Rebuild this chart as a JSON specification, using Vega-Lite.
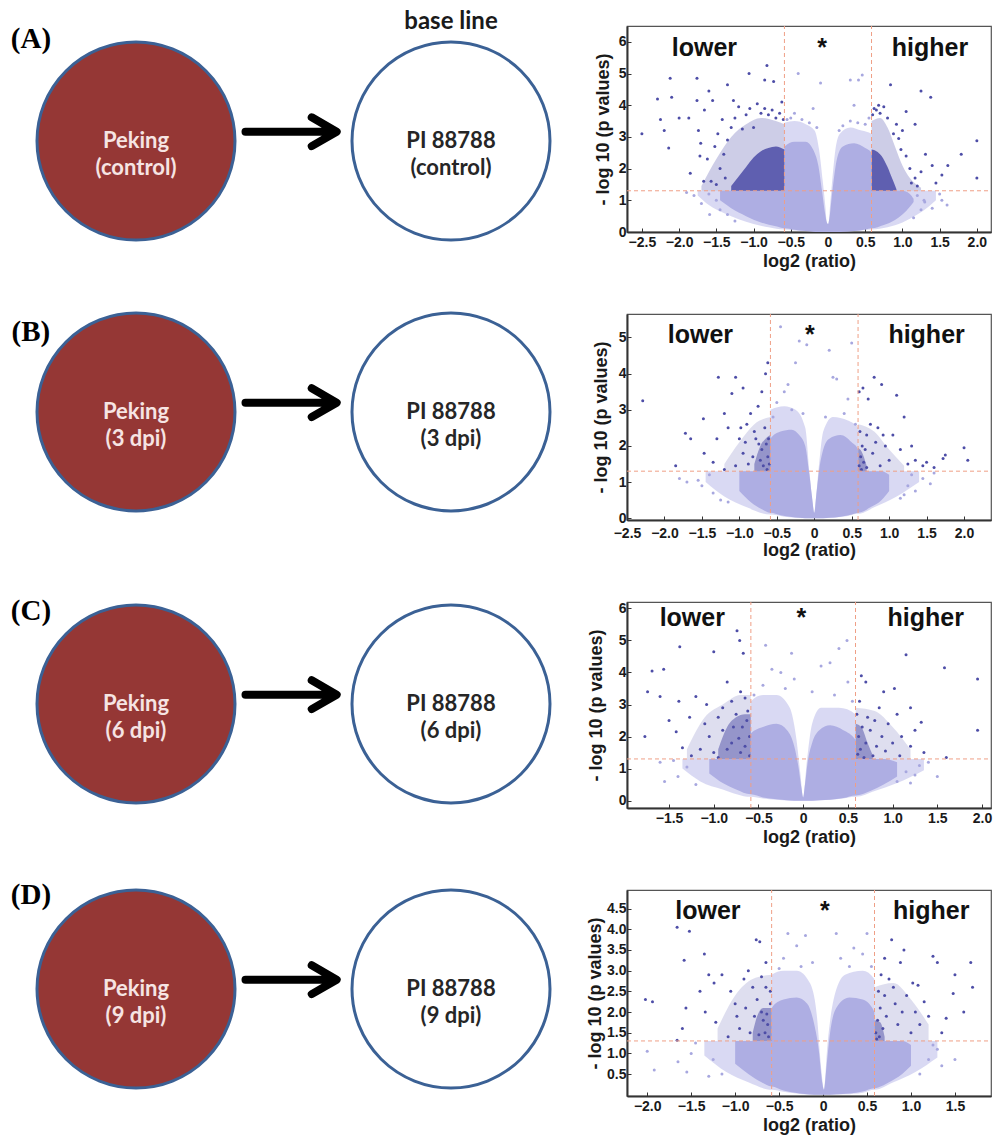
{
"$schema":"https://vega.github.io/schema/vega-lite/v6.json",
"background":"white",
"padding":{"left":0,"top":10,"right":0,"bottom":0},
"autosize":{"type":"pad"},
"columns":2,
"bounds":"flush",
"spacing":{"row":82,"column":57},
"config":{
 "axis":{"grid":false,"domain":true,"domainColor":"#333333","domainWidth":2,"ticks":true,"tickSize":-4,"tickColor":"#333333","tickWidth":1,"labelFont":"Liberation Sans","labelFontWeight":"bold","labelFontSize":14,"labelColor":"#1a1a1a","titleFont":"Liberation Sans","titleFontWeight":"bold","titleFontSize":18,"titleColor":"#1a1a1a","labelFlush":false,"labelOverlap":false},
 "axisX":{"labelPadding":7,"titlePadding":3},
 "axisY":{"labelPadding":5}
},
"datasets":{
 "sA":[{"kind":"node","cultivar":"Peking","pos":0,"level":0,"label":"Peking\n(control)"},{"kind":"node","cultivar":"PI 88788","pos":2,"level":0,"label":"PI 88788\n(control)"},{"kind":"arrow","pos":1,"level":0.09},{"kind":"tag","pos":-0.667,"level":0.99,"label":"(A)"},{"kind":"note","pos":2,"level":1.155,"label":"base line"}],
 "sB":[{"kind":"node","cultivar":"Peking","pos":0,"level":0,"label":"Peking\n(3 dpi)"},{"kind":"node","cultivar":"PI 88788","pos":2,"level":0,"label":"PI 88788\n(3 dpi)"},{"kind":"arrow","pos":1,"level":0.09},{"kind":"tag","pos":-0.667,"level":0.776,"label":"(B)"}],
 "sC":[{"kind":"node","cultivar":"Peking","pos":0,"level":0,"label":"Peking\n(6 dpi)"},{"kind":"node","cultivar":"PI 88788","pos":2,"level":0,"label":"PI 88788\n(6 dpi)"},{"kind":"arrow","pos":1,"level":0.09},{"kind":"tag","pos":-0.667,"level":0.903,"label":"(C)"}],
 "sD":[{"kind":"node","cultivar":"Peking","pos":0,"level":0,"label":"Peking\n(9 dpi)"},{"kind":"node","cultivar":"PI 88788","pos":2,"level":0,"label":"PI 88788\n(9 dpi)"},{"kind":"arrow","pos":1,"level":0.09},{"kind":"tag","pos":-0.667,"level":0.912,"label":"(D)"}],
 "eA":[
  {"t":"lo","s":"C","x":-1.75,"y":1.3,"y2v":1.15},{"t":"lo","s":"C","x":-1.6,"y":1.3,"y2v":0.85},{"t":"lo","s":"C","x":-1.4,"y":1.3,"y2v":0.6},{"t":"lo","s":"C","x":-1.2,"y":1.3,"y2v":0.4},{"t":"lo","s":"C","x":-1.0,"y":1.3,"y2v":0.25},{"t":"lo","s":"C","x":-0.8,"y":1.3,"y2v":0.15},{"t":"lo","s":"C","x":-0.586,"y":1.3,"y2v":0.08},{"t":"lo","s":"C","x":-0.584,"y":3.45,"y2v":0.08},{"t":"lo","s":"C","x":-0.45,"y":3.5,"y2v":0.05},{"t":"lo","s":"C","x":-0.3,"y":3.4,"y2v":0.02},{"t":"lo","s":"C","x":-0.18,"y":3.2,"y2v":0.01},{"t":"lo","s":"C","x":-0.12,"y":2.6,"y2v":0},{"t":"lo","s":"C","x":-0.07,"y":1.6,"y2v":0},{"t":"lo","s":"C","x":-0.035,"y":0.8,"y2v":0},{"t":"lo","s":"C","x":-0.015,"y":0.3,"y2v":0},{"t":"lo","s":"C","x":0.005,"y":0.25,"y2v":0},{"t":"lo","s":"C","x":0.03,"y":0.9,"y2v":0},{"t":"lo","s":"C","x":0.06,"y":1.7,"y2v":0},{"t":"lo","s":"C","x":0.1,"y":2.6,"y2v":0},{"t":"lo","s":"C","x":0.16,"y":3.1,"y2v":0},{"t":"lo","s":"C","x":0.3,"y":3.3,"y2v":0.02},{"t":"lo","s":"C","x":0.45,"y":3.2,"y2v":0.05},{"t":"lo","s":"C","x":0.584,"y":3.1,"y2v":0.08},{"t":"lo","s":"C","x":0.586,"y":1.3,"y2v":0.08},{"t":"lo","s":"C","x":0.8,"y":1.3,"y2v":0.15},{"t":"lo","s":"C","x":1.0,"y":1.3,"y2v":0.3},{"t":"lo","s":"C","x":1.2,"y":1.3,"y2v":0.55},{"t":"lo","s":"C","x":1.35,"y":1.3,"y2v":0.8},{"t":"lo","s":"C","x":1.45,"y":1.3,"y2v":1.0},
  {"t":"lc","s":"C","x":-1.45,"y":1.3,"y2v":1.0},{"t":"lc","s":"C","x":-1.3,"y":1.3,"y2v":0.75},{"t":"lc","s":"C","x":-1.1,"y":1.3,"y2v":0.5},{"t":"lc","s":"C","x":-0.9,"y":1.3,"y2v":0.3},{"t":"lc","s":"C","x":-0.7,"y":1.3,"y2v":0.18},{"t":"lc","s":"C","x":-0.586,"y":1.3,"y2v":0.12},{"t":"lc","s":"C","x":-0.584,"y":2.7,"y2v":0.12},{"t":"lc","s":"C","x":-0.45,"y":2.85,"y2v":0.07},{"t":"lc","s":"C","x":-0.3,"y":2.85,"y2v":0.03},{"t":"lc","s":"C","x":-0.2,"y":2.6,"y2v":0.01},{"t":"lc","s":"C","x":-0.13,"y":2.1,"y2v":0},{"t":"lc","s":"C","x":-0.08,"y":1.3,"y2v":0},{"t":"lc","s":"C","x":-0.04,"y":0.6,"y2v":0},{"t":"lc","s":"C","x":-0.015,"y":0.3,"y2v":0},{"t":"lc","s":"C","x":0.0,"y":0.25,"y2v":0},{"t":"lc","s":"C","x":0.02,"y":0.45,"y2v":0},{"t":"lc","s":"C","x":0.05,"y":1.1,"y2v":0},{"t":"lc","s":"C","x":0.08,"y":1.7,"y2v":0},{"t":"lc","s":"C","x":0.12,"y":2.3,"y2v":0},{"t":"lc","s":"C","x":0.2,"y":2.7,"y2v":0.01},{"t":"lc","s":"C","x":0.35,"y":2.8,"y2v":0.03},{"t":"lc","s":"C","x":0.5,"y":2.65,"y2v":0.08},{"t":"lc","s":"C","x":0.584,"y":2.5,"y2v":0.12},{"t":"lc","s":"C","x":0.586,"y":1.3,"y2v":0.12},{"t":"lc","s":"C","x":0.75,"y":1.3,"y2v":0.22},{"t":"lc","s":"C","x":0.9,"y":1.3,"y2v":0.38},{"t":"lc","s":"C","x":1.0,"y":1.3,"y2v":0.55},{"t":"lc","s":"C","x":1.1,"y":1.2,"y2v":0.8},{"t":"lc","s":"C","x":1.15,"y":1.05,"y2v":0.95},
  {"t":"do","s":"L","x":-1.7,"y":1.45,"y2v":1.3},{"t":"do","s":"L","x":-1.5,"y":2.3,"y2v":1.3},{"t":"do","s":"L","x":-1.3,"y":3.0,"y2v":1.3},{"t":"do","s":"L","x":-1.1,"y":3.4,"y2v":1.3},{"t":"do","s":"L","x":-0.9,"y":3.6,"y2v":1.3},{"t":"do","s":"L","x":-0.7,"y":3.5,"y2v":1.3},{"t":"do","s":"L","x":-0.586,"y":3.4,"y2v":1.3},
  {"t":"do","s":"R","x":0.586,"y":3.5,"y2v":1.3},{"t":"do","s":"R","x":0.7,"y":3.6,"y2v":1.3},{"t":"do","s":"R","x":0.8,"y":3.3,"y2v":1.3},{"t":"do","s":"R","x":0.9,"y":2.7,"y2v":1.3},{"t":"do","s":"R","x":1.0,"y":2.1,"y2v":1.3},{"t":"do","s":"R","x":1.1,"y":1.7,"y2v":1.3},{"t":"do","s":"R","x":1.25,"y":1.4,"y2v":1.3},
  {"t":"dc","s":"L","x":-1.3,"y":1.45,"y2v":1.3},{"t":"dc","s":"L","x":-1.2,"y":1.75,"y2v":1.3},{"t":"dc","s":"L","x":-1.1,"y":2.05,"y2v":1.3},{"t":"dc","s":"L","x":-1.0,"y":2.35,"y2v":1.3},{"t":"dc","s":"L","x":-0.9,"y":2.55,"y2v":1.3},{"t":"dc","s":"L","x":-0.8,"y":2.65,"y2v":1.3},{"t":"dc","s":"L","x":-0.7,"y":2.7,"y2v":1.3},{"t":"dc","s":"L","x":-0.586,"y":2.6,"y2v":1.3},
  {"t":"dc","s":"R","x":0.586,"y":2.6,"y2v":1.3},{"t":"dc","s":"R","x":0.65,"y":2.55,"y2v":1.3},{"t":"dc","s":"R","x":0.72,"y":2.4,"y2v":1.3},{"t":"dc","s":"R","x":0.8,"y":2.05,"y2v":1.3},{"t":"dc","s":"R","x":0.86,"y":1.7,"y2v":1.3},{"t":"dc","s":"R","x":0.92,"y":1.35,"y2v":1.3}
 ],
 "eB":[
  {"t":"lo","s":"C","x":-1.45,"y":1.3,"y2v":1.0},{"t":"lo","s":"C","x":-1.2,"y":1.3,"y2v":0.6},{"t":"lo","s":"C","x":-0.9,"y":1.3,"y2v":0.3},{"t":"lo","s":"C","x":-0.586,"y":1.3,"y2v":0.1},{"t":"lo","s":"C","x":-0.584,"y":3.0,"y2v":0.1},{"t":"lo","s":"C","x":-0.4,"y":3.1,"y2v":0.04},{"t":"lo","s":"C","x":-0.25,"y":3.0,"y2v":0.01},{"t":"lo","s":"C","x":-0.12,"y":2.5,"y2v":0},{"t":"lo","s":"C","x":-0.06,"y":1.2,"y2v":0},{"t":"lo","s":"C","x":-0.02,"y":0.4,"y2v":0},{"t":"lo","s":"C","x":0.0,"y":0.15,"y2v":0},{"t":"lo","s":"C","x":0.02,"y":0.5,"y2v":0},{"t":"lo","s":"C","x":0.06,"y":1.4,"y2v":0},{"t":"lo","s":"C","x":0.12,"y":2.4,"y2v":0},{"t":"lo","s":"C","x":0.25,"y":2.8,"y2v":0.01},{"t":"lo","s":"C","x":0.45,"y":2.7,"y2v":0.06},{"t":"lo","s":"C","x":0.584,"y":2.5,"y2v":0.12},{"t":"lo","s":"C","x":0.586,"y":1.3,"y2v":0.12},{"t":"lo","s":"C","x":0.8,"y":1.3,"y2v":0.3},{"t":"lo","s":"C","x":1.1,"y":1.3,"y2v":0.6},{"t":"lo","s":"C","x":1.4,"y":1.3,"y2v":1.0},
  {"t":"lc","s":"C","x":-1.0,"y":1.3,"y2v":0.75},{"t":"lc","s":"C","x":-0.85,"y":1.3,"y2v":0.45},{"t":"lc","s":"C","x":-0.7,"y":1.3,"y2v":0.25},{"t":"lc","s":"C","x":-0.586,"y":1.3,"y2v":0.15},{"t":"lc","s":"C","x":-0.584,"y":2.2,"y2v":0.15},{"t":"lc","s":"C","x":-0.45,"y":2.4,"y2v":0.08},{"t":"lc","s":"C","x":-0.3,"y":2.45,"y2v":0.03},{"t":"lc","s":"C","x":-0.2,"y":2.3,"y2v":0.01},{"t":"lc","s":"C","x":-0.12,"y":2.0,"y2v":0},{"t":"lc","s":"C","x":-0.07,"y":1.3,"y2v":0},{"t":"lc","s":"C","x":-0.03,"y":0.6,"y2v":0},{"t":"lc","s":"C","x":0.0,"y":0.15,"y2v":0},{"t":"lc","s":"C","x":0.03,"y":0.7,"y2v":0},{"t":"lc","s":"C","x":0.07,"y":1.4,"y2v":0},{"t":"lc","s":"C","x":0.12,"y":1.9,"y2v":0},{"t":"lc","s":"C","x":0.2,"y":2.2,"y2v":0.01},{"t":"lc","s":"C","x":0.35,"y":2.3,"y2v":0.04},{"t":"lc","s":"C","x":0.5,"y":2.1,"y2v":0.1},{"t":"lc","s":"C","x":0.584,"y":1.9,"y2v":0.15},{"t":"lc","s":"C","x":0.586,"y":1.3,"y2v":0.15},{"t":"lc","s":"C","x":0.75,"y":1.3,"y2v":0.3},{"t":"lc","s":"C","x":0.9,"y":1.3,"y2v":0.5},{"t":"lc","s":"C","x":1.0,"y":1.2,"y2v":0.75},
  {"t":"do","s":"L","x":-1.2,"y":1.5,"y2v":1.3},{"t":"do","s":"L","x":-1.0,"y":2.1,"y2v":1.3},{"t":"do","s":"L","x":-0.8,"y":2.6,"y2v":1.3},{"t":"do","s":"L","x":-0.586,"y":2.8,"y2v":1.3},
  {"t":"do","s":"R","x":0.586,"y":2.6,"y2v":1.3},{"t":"do","s":"R","x":0.8,"y":2.4,"y2v":1.3},{"t":"do","s":"R","x":1.0,"y":1.9,"y2v":1.3},{"t":"do","s":"R","x":1.2,"y":1.45,"y2v":1.3},
  {"t":"dc","s":"L","x":-0.8,"y":1.5,"y2v":1.3},{"t":"dc","s":"L","x":-0.72,"y":2.0,"y2v":1.3},{"t":"dc","s":"L","x":-0.65,"y":2.2,"y2v":1.3},{"t":"dc","s":"L","x":-0.586,"y":2.3,"y2v":1.3},
  {"t":"dc","s":"R","x":0.586,"y":1.95,"y2v":1.3},{"t":"dc","s":"R","x":0.63,"y":1.85,"y2v":1.3},{"t":"dc","s":"R","x":0.7,"y":1.45,"y2v":1.3}
 ],
 "eC":[
  {"t":"lo","s":"C","x":-1.35,"y":1.3,"y2v":1.0},{"t":"lo","s":"C","x":-1.15,"y":1.3,"y2v":0.6},{"t":"lo","s":"C","x":-0.9,"y":1.3,"y2v":0.35},{"t":"lo","s":"C","x":-0.586,"y":1.3,"y2v":0.12},{"t":"lo","s":"C","x":-0.584,"y":3.1,"y2v":0.12},{"t":"lo","s":"C","x":-0.45,"y":3.3,"y2v":0.07},{"t":"lo","s":"C","x":-0.3,"y":3.3,"y2v":0.03},{"t":"lo","s":"C","x":-0.15,"y":2.9,"y2v":0},{"t":"lo","s":"C","x":-0.08,"y":2.0,"y2v":0},{"t":"lo","s":"C","x":-0.03,"y":0.8,"y2v":0},{"t":"lo","s":"C","x":0.0,"y":0.1,"y2v":0},{"t":"lo","s":"C","x":0.04,"y":1.2,"y2v":0},{"t":"lo","s":"C","x":0.1,"y":2.4,"y2v":0},{"t":"lo","s":"C","x":0.2,"y":2.9,"y2v":0.01},{"t":"lo","s":"C","x":0.4,"y":2.9,"y2v":0.05},{"t":"lo","s":"C","x":0.584,"y":2.7,"y2v":0.12},{"t":"lo","s":"C","x":0.586,"y":1.3,"y2v":0.12},{"t":"lo","s":"C","x":0.8,"y":1.3,"y2v":0.3},{"t":"lo","s":"C","x":1.05,"y":1.3,"y2v":0.55},{"t":"lo","s":"C","x":1.35,"y":1.3,"y2v":0.95},
  {"t":"lc","s":"C","x":-1.05,"y":1.3,"y2v":0.85},{"t":"lc","s":"C","x":-0.9,"y":1.3,"y2v":0.55},{"t":"lc","s":"C","x":-0.75,"y":1.3,"y2v":0.35},{"t":"lc","s":"C","x":-0.586,"y":1.3,"y2v":0.2},{"t":"lc","s":"C","x":-0.584,"y":2.1,"y2v":0.2},{"t":"lc","s":"C","x":-0.45,"y":2.3,"y2v":0.1},{"t":"lc","s":"C","x":-0.3,"y":2.4,"y2v":0.04},{"t":"lc","s":"C","x":-0.18,"y":2.2,"y2v":0.01},{"t":"lc","s":"C","x":-0.1,"y":1.7,"y2v":0},{"t":"lc","s":"C","x":-0.05,"y":1.0,"y2v":0},{"t":"lc","s":"C","x":-0.02,"y":0.4,"y2v":0},{"t":"lc","s":"C","x":0.0,"y":0.1,"y2v":0},{"t":"lc","s":"C","x":0.02,"y":0.5,"y2v":0},{"t":"lc","s":"C","x":0.05,"y":1.2,"y2v":0},{"t":"lc","s":"C","x":0.1,"y":1.8,"y2v":0},{"t":"lc","s":"C","x":0.18,"y":2.2,"y2v":0.01},{"t":"lc","s":"C","x":0.3,"y":2.35,"y2v":0.03},{"t":"lc","s":"C","x":0.45,"y":2.2,"y2v":0.08},{"t":"lc","s":"C","x":0.584,"y":1.9,"y2v":0.16},{"t":"lc","s":"C","x":0.586,"y":1.3,"y2v":0.16},{"t":"lc","s":"C","x":0.75,"y":1.3,"y2v":0.3},{"t":"lc","s":"C","x":0.9,"y":1.3,"y2v":0.5},{"t":"lc","s":"C","x":1.05,"y":1.2,"y2v":0.75},
  {"t":"do","s":"L","x":-1.3,"y":1.6,"y2v":1.3},{"t":"do","s":"L","x":-1.1,"y":2.6,"y2v":1.3},{"t":"do","s":"L","x":-0.9,"y":3.0,"y2v":1.3},{"t":"do","s":"L","x":-0.7,"y":3.3,"y2v":1.3},{"t":"do","s":"L","x":-0.586,"y":3.3,"y2v":1.3},
  {"t":"do","s":"R","x":0.586,"y":2.9,"y2v":1.3},{"t":"do","s":"R","x":0.8,"y":2.8,"y2v":1.3},{"t":"do","s":"R","x":1.0,"y":2.3,"y2v":1.3},{"t":"do","s":"R","x":1.2,"y":1.6,"y2v":1.3},
  {"t":"dc","s":"L","x":-0.95,"y":1.6,"y2v":1.3},{"t":"dc","s":"L","x":-0.85,"y":2.3,"y2v":1.3},{"t":"dc","s":"L","x":-0.75,"y":2.6,"y2v":1.3},{"t":"dc","s":"L","x":-0.65,"y":2.7,"y2v":1.3},{"t":"dc","s":"L","x":-0.586,"y":2.7,"y2v":1.3},
  {"t":"dc","s":"R","x":0.586,"y":2.4,"y2v":1.3},{"t":"dc","s":"R","x":0.65,"y":2.3,"y2v":1.3},{"t":"dc","s":"R","x":0.72,"y":1.8,"y2v":1.3},{"t":"dc","s":"R","x":0.78,"y":1.4,"y2v":1.3}
 ],
 "eD":[
  {"t":"lo","s":"C","x":-1.35,"y":1.3,"y2v":0.95},{"t":"lo","s":"C","x":-1.1,"y":1.3,"y2v":0.55},{"t":"lo","s":"C","x":-0.85,"y":1.3,"y2v":0.3},{"t":"lo","s":"C","x":-0.586,"y":1.3,"y2v":0.12},{"t":"lo","s":"C","x":-0.584,"y":2.9,"y2v":0.12},{"t":"lo","s":"C","x":-0.45,"y":3.0,"y2v":0.07},{"t":"lo","s":"C","x":-0.3,"y":3.0,"y2v":0.03},{"t":"lo","s":"C","x":-0.15,"y":2.7,"y2v":0},{"t":"lo","s":"C","x":-0.07,"y":1.9,"y2v":0},{"t":"lo","s":"C","x":-0.02,"y":0.6,"y2v":0},{"t":"lo","s":"C","x":0.01,"y":0.12,"y2v":0},{"t":"lo","s":"C","x":0.05,"y":1.2,"y2v":0},{"t":"lo","s":"C","x":0.12,"y":2.3,"y2v":0},{"t":"lo","s":"C","x":0.25,"y":2.9,"y2v":0.01},{"t":"lo","s":"C","x":0.45,"y":3.0,"y2v":0.05},{"t":"lo","s":"C","x":0.584,"y":2.8,"y2v":0.12},{"t":"lo","s":"C","x":0.586,"y":1.3,"y2v":0.12},{"t":"lo","s":"C","x":0.8,"y":1.3,"y2v":0.3},{"t":"lo","s":"C","x":1.05,"y":1.3,"y2v":0.55},{"t":"lo","s":"C","x":1.3,"y":1.3,"y2v":0.9},
  {"t":"lc","s":"C","x":-1.0,"y":1.3,"y2v":0.75},{"t":"lc","s":"C","x":-0.85,"y":1.3,"y2v":0.5},{"t":"lc","s":"C","x":-0.7,"y":1.3,"y2v":0.3},{"t":"lc","s":"C","x":-0.586,"y":1.3,"y2v":0.2},{"t":"lc","s":"C","x":-0.584,"y":2.1,"y2v":0.2},{"t":"lc","s":"C","x":-0.45,"y":2.3,"y2v":0.1},{"t":"lc","s":"C","x":-0.3,"y":2.35,"y2v":0.04},{"t":"lc","s":"C","x":-0.18,"y":2.2,"y2v":0.01},{"t":"lc","s":"C","x":-0.1,"y":1.7,"y2v":0},{"t":"lc","s":"C","x":-0.05,"y":1.1,"y2v":0},{"t":"lc","s":"C","x":-0.01,"y":0.3,"y2v":0},{"t":"lc","s":"C","x":0.01,"y":0.12,"y2v":0},{"t":"lc","s":"C","x":0.04,"y":0.7,"y2v":0},{"t":"lc","s":"C","x":0.08,"y":1.5,"y2v":0},{"t":"lc","s":"C","x":0.15,"y":2.1,"y2v":0.01},{"t":"lc","s":"C","x":0.3,"y":2.35,"y2v":0.03},{"t":"lc","s":"C","x":0.45,"y":2.3,"y2v":0.08},{"t":"lc","s":"C","x":0.584,"y":2.0,"y2v":0.16},{"t":"lc","s":"C","x":0.586,"y":1.3,"y2v":0.16},{"t":"lc","s":"C","x":0.75,"y":1.3,"y2v":0.3},{"t":"lc","s":"C","x":0.9,"y":1.3,"y2v":0.5},{"t":"lc","s":"C","x":1.0,"y":1.2,"y2v":0.7},
  {"t":"do","s":"L","x":-1.2,"y":1.6,"y2v":1.3},{"t":"do","s":"L","x":-1.0,"y":2.4,"y2v":1.3},{"t":"do","s":"L","x":-0.8,"y":2.8,"y2v":1.3},{"t":"do","s":"L","x":-0.586,"y":2.9,"y2v":1.3},
  {"t":"do","s":"R","x":0.586,"y":2.6,"y2v":1.3},{"t":"do","s":"R","x":0.8,"y":2.7,"y2v":1.3},{"t":"do","s":"R","x":1.0,"y":2.3,"y2v":1.3},{"t":"do","s":"R","x":1.2,"y":1.7,"y2v":1.3},
  {"t":"dc","s":"L","x":-0.8,"y":1.5,"y2v":1.3},{"t":"dc","s":"L","x":-0.75,"y":1.9,"y2v":1.3},{"t":"dc","s":"L","x":-0.68,"y":2.1,"y2v":1.3},{"t":"dc","s":"L","x":-0.586,"y":2.1,"y2v":1.3},
  {"t":"dc","s":"R","x":0.586,"y":1.8,"y2v":1.3},{"t":"dc","s":"R","x":0.65,"y":1.75,"y2v":1.3},{"t":"dc","s":"R","x":0.7,"y":1.4,"y2v":1.3}
 ],
 "pA":[
  {"c":"d","x":-2.5,"y":3.1},{"c":"d","x":-2.29,"y":4.2},{"c":"d","x":-2.12,"y":4.85},{"c":"d","x":-2.1,"y":4.25},{"c":"d","x":-2.25,"y":3.55},{"c":"d","x":-2.14,"y":2.65},{"c":"d","x":-2.2,"y":3.2},{"c":"d","x":-1.76,"y":4.85},{"c":"d","x":-1.6,"y":4.45},{"c":"d","x":-1.76,"y":4.15},{"c":"d","x":-2.0,"y":3.6},{"c":"d","x":-1.87,"y":3.6},{"c":"d","x":-1.74,"y":3.2},{"c":"d","x":-1.71,"y":2.8},{"c":"d","x":-1.85,"y":1.85},{"c":"d","x":-1.35,"y":4.65},{"c":"d","x":-1.06,"y":5.0},{"c":"d","x":-0.85,"y":4.8},{"c":"d","x":-0.82,"y":5.25},{"c":"d","x":-0.73,"y":4.75},{"c":"d","x":-1.27,"y":4.15},{"c":"d","x":-1.55,"y":4.15},{"c":"d","x":-1.66,"y":3.85},{"c":"d","x":-1.35,"y":2.9},{"c":"d","x":-1.67,"y":1.6},{"c":"d","x":-1.57,"y":1.6},{"c":"d","x":-1.5,"y":1.5},{"c":"d","x":-1.45,"y":2.0},{"c":"d","x":-1.4,"y":2.45},{"c":"d","x":-1.52,"y":2.7},{"c":"d","x":-1.3,"y":3.3},{"c":"d","x":-1.25,"y":3.6},{"c":"d","x":-1.2,"y":3.95},{"c":"d","x":-1.15,"y":3.25},{"c":"d","x":-1.1,"y":3.7},{"c":"d","x":-1.05,"y":3.9},{"c":"d","x":-1.0,"y":3.3},{"c":"d","x":-0.95,"y":4.05},{"c":"d","x":-0.9,"y":3.75},{"c":"d","x":-0.85,"y":3.9},{"c":"d","x":-0.8,"y":3.7},{"c":"d","x":-0.75,"y":3.85},{"c":"d","x":-0.7,"y":3.6},{"c":"d","x":-0.65,"y":3.75},{"c":"d","x":-0.62,"y":4.1},{"c":"d","x":-0.6,"y":3.55},{"c":"d","x":-1.62,"y":2.3},{"c":"d","x":-1.48,"y":3.1},{"c":"d","x":-1.42,"y":3.55},{"c":"d","x":-1.38,"y":1.7},{"c":"d","x":-1.72,"y":2.4},
  {"c":"d","x":0.84,"y":4.65},{"c":"d","x":1.25,"y":4.45},{"c":"d","x":1.38,"y":4.25},{"c":"d","x":1.05,"y":3.8},{"c":"d","x":1.17,"y":3.4},{"c":"d","x":2.0,"y":2.88},{"c":"d","x":1.79,"y":2.45},{"c":"d","x":1.61,"y":2.1},{"c":"d","x":1.53,"y":1.8},{"c":"d","x":2.0,"y":1.7},{"c":"d","x":1.31,"y":2.45},{"c":"d","x":1.4,"y":2.1},{"c":"d","x":1.17,"y":1.7},{"c":"d","x":0.6,"y":3.7},{"c":"d","x":0.65,"y":3.85},{"c":"d","x":0.7,"y":3.75},{"c":"d","x":0.75,"y":3.95},{"c":"d","x":0.8,"y":3.6},{"c":"d","x":0.88,"y":3.1},{"c":"d","x":0.95,"y":2.95},{"c":"d","x":0.98,"y":2.6},{"c":"d","x":1.05,"y":2.4},{"c":"d","x":1.1,"y":2.0},{"c":"d","x":1.12,"y":1.55},{"c":"d","x":1.2,"y":1.45},{"c":"d","x":1.25,"y":1.9},{"c":"d","x":0.92,"y":3.4},{"c":"d","x":0.62,"y":3.9},{"c":"d","x":0.68,"y":4.0},{"c":"d","x":1.45,"y":1.55},{"c":"d","x":1.0,"y":3.2},
  {"c":"l","x":0.46,"y":4.95},{"c":"l","x":0.41,"y":4.8},{"c":"l","x":0.3,"y":4.8},{"c":"l","x":-0.1,"y":4.7},{"c":"l","x":-0.4,"y":5.0},{"c":"l","x":-0.5,"y":3.6},{"c":"l","x":-0.45,"y":3.75},{"c":"l","x":-0.35,"y":3.55},{"c":"l","x":-0.25,"y":3.45},{"c":"l","x":-0.15,"y":3.3},{"c":"l","x":-0.55,"y":3.55},{"c":"l","x":0.2,"y":3.35},{"c":"l","x":0.3,"y":3.5},{"c":"l","x":0.4,"y":3.45},{"c":"l","x":0.5,"y":3.4},{"c":"l","x":0.55,"y":3.6},{"c":"l","x":0.15,"y":3.2},{"c":"l","x":-0.2,"y":3.9},{"c":"l","x":0.35,"y":4.0},
  {"c":"l","x":-1.5,"y":1.0},{"c":"l","x":-1.59,"y":0.55},{"c":"l","x":-1.7,"y":0.9},{"c":"l","x":-1.8,"y":1.15},{"c":"l","x":-1.45,"y":0.7},{"c":"l","x":-1.35,"y":0.55},{"c":"l","x":-1.9,"y":1.25},{"c":"l","x":1.25,"y":0.7},{"c":"l","x":1.3,"y":0.95},{"c":"l","x":1.4,"y":0.75},{"c":"l","x":1.15,"y":0.45},{"c":"l","x":1.53,"y":1.0},{"c":"l","x":1.29,"y":1.0},{"c":"l","x":1.5,"y":1.2},{"c":"l","x":1.6,"y":0.85},{"c":"l","x":1.2,"y":1.15},{"c":"l","x":-1.25,"y":0.35},{"c":"l","x":-1.6,"y":1.2}
 ],
 "pB":[
  {"c":"d","x":-2.29,"y":3.25},{"c":"d","x":-1.85,"y":1.45},{"c":"d","x":-1.72,"y":2.35},{"c":"d","x":-1.65,"y":2.2},{"c":"d","x":-1.48,"y":2.75},{"c":"d","x":-1.47,"y":1.8},{"c":"d","x":-1.35,"y":1.55},{"c":"d","x":-1.28,"y":3.9},{"c":"d","x":-1.05,"y":3.9},{"c":"d","x":-0.95,"y":3.6},{"c":"d","x":-1.1,"y":3.45},{"c":"d","x":-1.2,"y":2.9},{"c":"d","x":-1.15,"y":2.5},{"c":"d","x":-1.0,"y":2.2},{"c":"d","x":-0.95,"y":1.8},{"c":"d","x":-0.9,"y":2.6},{"c":"d","x":-0.85,"y":2.9},{"c":"d","x":-0.8,"y":2.4},{"c":"d","x":-0.75,"y":3.1},{"c":"d","x":-0.7,"y":3.5},{"c":"d","x":-0.65,"y":4.0},{"c":"d","x":-0.62,"y":4.3},{"c":"d","x":-0.7,"y":1.9},{"c":"d","x":-0.72,"y":1.6},{"c":"d","x":-0.68,"y":1.45},{"c":"d","x":-0.64,"y":2.05},{"c":"d","x":-0.62,"y":1.7},{"c":"d","x":-0.6,"y":1.5},{"c":"d","x":-0.66,"y":2.5},{"c":"d","x":-0.78,"y":2.2},{"c":"d","x":-0.88,"y":1.5},{"c":"d","x":-1.05,"y":1.45},{"c":"d","x":-1.2,"y":1.35},{"c":"d","x":-0.61,"y":2.2},{"c":"d","x":-0.63,"y":1.35},{"c":"d","x":-0.74,"y":2.05},{"c":"d","x":-0.82,"y":1.7},{"c":"d","x":-0.92,"y":2.1},{"c":"d","x":-1.3,"y":2.2},{"c":"d","x":-0.98,"y":2.5},
  {"c":"d","x":0.62,"y":1.7},{"c":"d","x":0.6,"y":1.45},{"c":"d","x":0.64,"y":2.0},{"c":"d","x":0.66,"y":1.55},{"c":"d","x":0.7,"y":2.3},{"c":"d","x":0.75,"y":2.6},{"c":"d","x":0.8,"y":3.9},{"c":"d","x":0.9,"y":3.7},{"c":"d","x":0.85,"y":2.5},{"c":"d","x":0.95,"y":2.0},{"c":"d","x":1.0,"y":1.6},{"c":"d","x":1.05,"y":2.3},{"c":"d","x":1.1,"y":3.4},{"c":"d","x":1.2,"y":2.8},{"c":"d","x":1.15,"y":1.9},{"c":"d","x":1.25,"y":1.5},{"c":"d","x":1.35,"y":1.6},{"c":"d","x":0.78,"y":1.8},{"c":"d","x":0.88,"y":1.45},{"c":"d","x":0.72,"y":3.3},{"c":"d","x":0.65,"y":3.6},{"c":"d","x":2.0,"y":1.95},{"c":"d","x":2.05,"y":1.6},{"c":"d","x":1.75,"y":1.75},{"c":"d","x":1.6,"y":1.4},{"c":"d","x":1.45,"y":1.45},{"c":"d","x":0.61,"y":2.4},{"c":"d","x":0.63,"y":1.35},{"c":"d","x":0.68,"y":1.9},{"c":"d","x":0.7,"y":1.4},{"c":"d","x":0.82,"y":2.1},{"c":"d","x":0.92,"y":2.3},{"c":"d","x":1.3,"y":2.0},{"c":"d","x":1.5,"y":1.55},{"c":"d","x":1.72,"y":1.65},{"c":"d","x":0.6,"y":3.5},
  {"c":"l","x":-0.45,"y":5.3},{"c":"l","x":-0.2,"y":4.9},{"c":"l","x":-0.1,"y":4.8},{"c":"l","x":-0.25,"y":4.3},{"c":"l","x":0.2,"y":4.65},{"c":"l","x":0.25,"y":3.9},{"c":"l","x":0.3,"y":3.85},{"c":"l","x":-0.4,"y":3.5},{"c":"l","x":-0.5,"y":3.2},{"c":"l","x":0.45,"y":3.3},{"c":"l","x":0.5,"y":4.85},{"c":"l","x":-0.3,"y":3.0},{"c":"l","x":-0.15,"y":2.9},{"c":"l","x":0.15,"y":2.8},{"c":"l","x":0.4,"y":2.9},{"c":"l","x":-0.55,"y":2.8},{"c":"l","x":0.55,"y":2.6},{"c":"l","x":-0.35,"y":3.7},
  {"c":"l","x":-1.35,"y":0.7},{"c":"l","x":-1.5,"y":0.9},{"c":"l","x":-1.55,"y":1.05},{"c":"l","x":-1.25,"y":0.5},{"c":"l","x":-1.4,"y":1.2},{"c":"l","x":-1.8,"y":1.1},{"c":"l","x":1.15,"y":0.55},{"c":"l","x":1.25,"y":0.9},{"c":"l","x":1.35,"y":0.75},{"c":"l","x":1.45,"y":1.1},{"c":"l","x":1.55,"y":0.95},{"c":"l","x":1.3,"y":1.2},{"c":"l","x":1.6,"y":1.25},{"c":"l","x":1.2,"y":0.65},{"c":"l","x":-1.15,"y":0.45},{"c":"l","x":-1.7,"y":1.0}
 ],
 "pC":[
  {"c":"d","x":-1.77,"y":2.0},{"c":"d","x":-1.74,"y":3.4},{"c":"d","x":-1.69,"y":4.05},{"c":"d","x":-1.56,"y":4.1},{"c":"d","x":-1.6,"y":3.25},{"c":"d","x":-1.39,"y":3.1},{"c":"d","x":-1.35,"y":1.65},{"c":"d","x":-1.42,"y":2.15},{"c":"d","x":-1.2,"y":3.25},{"c":"d","x":-1.27,"y":2.6},{"c":"d","x":-1.38,"y":4.8},{"c":"d","x":-1.0,"y":4.65},{"c":"d","x":-0.74,"y":5.3},{"c":"d","x":-0.71,"y":5.0},{"c":"d","x":-0.67,"y":4.6},{"c":"d","x":-0.85,"y":3.7},{"c":"d","x":-0.9,"y":2.9},{"c":"d","x":-1.1,"y":2.4},{"c":"d","x":-1.05,"y":2.0},{"c":"d","x":-1.15,"y":1.6},{"c":"d","x":-1.0,"y":1.5},{"c":"d","x":-0.95,"y":2.6},{"c":"d","x":-0.8,"y":3.1},{"c":"d","x":-0.7,"y":3.4},{"c":"d","x":-0.65,"y":3.2},{"c":"d","x":-0.62,"y":2.8},{"c":"d","x":-0.75,"y":2.7},{"c":"d","x":-0.9,"y":2.2},{"c":"d","x":-0.8,"y":1.8},{"c":"d","x":-0.7,"y":1.5},{"c":"d","x":-0.65,"y":1.7},{"c":"d","x":-0.6,"y":1.4},{"c":"d","x":-0.68,"y":2.3},{"c":"d","x":-0.78,"y":2.3},{"c":"d","x":-0.85,"y":1.6},{"c":"d","x":-0.95,"y":1.35},{"c":"d","x":-1.08,"y":3.0},{"c":"d","x":-0.6,"y":2.0},{"c":"d","x":-0.63,"y":2.5},{"c":"d","x":-0.72,"y":1.95},{"c":"d","x":-1.25,"y":1.4},{"c":"d","x":-1.5,"y":2.5},
  {"c":"d","x":0.6,"y":2.7},{"c":"d","x":0.62,"y":2.0},{"c":"d","x":0.64,"y":1.6},{"c":"d","x":0.66,"y":2.3},{"c":"d","x":0.7,"y":1.8},{"c":"d","x":0.72,"y":2.6},{"c":"d","x":0.75,"y":2.2},{"c":"d","x":0.8,"y":2.5},{"c":"d","x":0.82,"y":1.7},{"c":"d","x":0.85,"y":2.9},{"c":"d","x":0.88,"y":2.0},{"c":"d","x":0.9,"y":3.4},{"c":"d","x":0.95,"y":2.4},{"c":"d","x":1.0,"y":1.8},{"c":"d","x":1.02,"y":3.5},{"c":"d","x":1.05,"y":2.7},{"c":"d","x":1.1,"y":2.0},{"c":"d","x":1.15,"y":4.55},{"c":"d","x":1.2,"y":2.9},{"c":"d","x":1.2,"y":1.7},{"c":"d","x":1.25,"y":2.2},{"c":"d","x":1.32,"y":2.45},{"c":"d","x":1.35,"y":1.5},{"c":"d","x":1.58,"y":4.15},{"c":"d","x":1.6,"y":1.35},{"c":"d","x":1.95,"y":3.8},{"c":"d","x":1.95,"y":2.2},{"c":"d","x":0.65,"y":3.9},{"c":"d","x":0.7,"y":3.7},{"c":"d","x":0.78,"y":1.4},{"c":"d","x":0.92,"y":1.55},{"c":"d","x":1.08,"y":1.4},{"c":"d","x":0.61,"y":1.45},{"c":"d","x":0.63,"y":3.1},{"c":"d","x":0.68,"y":1.35},
  {"c":"l","x":-0.42,"y":4.85},{"c":"l","x":-0.13,"y":4.6},{"c":"l","x":0.49,"y":5.0},{"c":"l","x":0.3,"y":4.3},{"c":"l","x":0.2,"y":4.2},{"c":"l","x":0.4,"y":4.75},{"c":"l","x":-0.35,"y":4.1},{"c":"l","x":-0.45,"y":3.6},{"c":"l","x":0.5,"y":3.7},{"c":"l","x":-0.25,"y":4.0},{"c":"l","x":-0.1,"y":3.8},{"c":"l","x":-0.55,"y":3.3},{"c":"l","x":0.1,"y":3.4},{"c":"l","x":-0.2,"y":3.5},{"c":"l","x":0.35,"y":3.3},{"c":"l","x":0.55,"y":3.1},
  {"c":"l","x":-1.2,"y":0.5},{"c":"l","x":-1.4,"y":0.75},{"c":"l","x":-1.55,"y":0.6},{"c":"l","x":-1.3,"y":1.05},{"c":"l","x":-1.6,"y":1.2},{"c":"l","x":-1.45,"y":1.25},{"c":"l","x":1.15,"y":0.9},{"c":"l","x":1.25,"y":0.8},{"c":"l","x":1.3,"y":1.1},{"c":"l","x":1.5,"y":0.75},{"c":"l","x":1.4,"y":1.2},{"c":"l","x":1.2,"y":0.55},{"c":"l","x":1.05,"y":0.6}
 ],
 "pD":[
  {"c":"d","x":-1.94,"y":2.25},{"c":"d","x":-2.02,"y":2.3},{"c":"d","x":-1.66,"y":4.05},{"c":"d","x":-1.52,"y":3.95},{"c":"d","x":-1.58,"y":3.25},{"c":"d","x":-1.56,"y":2.1},{"c":"d","x":-1.6,"y":1.6},{"c":"d","x":-1.66,"y":1.32},{"c":"d","x":-1.35,"y":3.4},{"c":"d","x":-1.3,"y":2.9},{"c":"d","x":-1.24,"y":2.7},{"c":"d","x":-1.4,"y":2.5},{"c":"d","x":-1.34,"y":2.0},{"c":"d","x":-1.22,"y":1.75},{"c":"d","x":-1.15,"y":2.9},{"c":"d","x":-1.05,"y":2.5},{"c":"d","x":-1.0,"y":2.2},{"c":"d","x":-0.98,"y":1.9},{"c":"d","x":-0.95,"y":1.6},{"c":"d","x":-0.9,"y":2.8},{"c":"d","x":-0.85,"y":3.0},{"c":"d","x":-0.8,"y":2.6},{"c":"d","x":-0.76,"y":3.75},{"c":"d","x":-0.72,"y":3.7},{"c":"d","x":-0.75,"y":2.3},{"c":"d","x":-0.7,"y":2.0},{"c":"d","x":-0.68,"y":1.8},{"c":"d","x":-0.66,"y":1.5},{"c":"d","x":-0.63,"y":1.7},{"c":"d","x":-0.62,"y":1.4},{"c":"d","x":-0.6,"y":2.2},{"c":"d","x":-0.6,"y":2.5},{"c":"d","x":-0.65,"y":2.6},{"c":"d","x":-0.7,"y":2.85},{"c":"d","x":-0.65,"y":3.2},{"c":"d","x":-0.88,"y":2.1},{"c":"d","x":-0.83,"y":1.5},{"c":"d","x":-1.08,"y":1.4},{"c":"d","x":-0.73,"y":1.45},{"c":"d","x":-0.78,"y":1.9},{"c":"d","x":-0.64,"y":1.95},
  {"c":"d","x":0.6,"y":1.5},{"c":"d","x":0.62,"y":1.8},{"c":"d","x":0.64,"y":1.4},{"c":"d","x":0.65,"y":2.1},{"c":"d","x":0.68,"y":1.6},{"c":"d","x":0.7,"y":2.4},{"c":"d","x":0.72,"y":1.9},{"c":"d","x":0.75,"y":2.8},{"c":"d","x":0.78,"y":3.75},{"c":"d","x":0.8,"y":2.6},{"c":"d","x":0.82,"y":2.2},{"c":"d","x":0.85,"y":1.7},{"c":"d","x":0.88,"y":3.2},{"c":"d","x":0.9,"y":2.0},{"c":"d","x":0.92,"y":3.5},{"c":"d","x":0.95,"y":2.4},{"c":"d","x":1.0,"y":1.5},{"c":"d","x":1.02,"y":2.7},{"c":"d","x":1.05,"y":2.0},{"c":"d","x":1.08,"y":2.65},{"c":"d","x":1.1,"y":1.7},{"c":"d","x":1.15,"y":2.25},{"c":"d","x":1.2,"y":1.9},{"c":"d","x":1.25,"y":3.35},{"c":"d","x":1.3,"y":3.2},{"c":"d","x":1.35,"y":1.5},{"c":"d","x":1.4,"y":1.85},{"c":"d","x":1.48,"y":2.45},{"c":"d","x":1.5,"y":2.9},{"c":"d","x":1.6,"y":2.0},{"c":"d","x":1.68,"y":3.2},{"c":"d","x":1.7,"y":2.6},{"c":"d","x":0.66,"y":2.9},{"c":"d","x":0.7,"y":3.3},{"c":"d","x":0.61,"y":1.35},{"c":"d","x":0.63,"y":2.5},
  {"c":"l","x":-0.4,"y":3.9},{"c":"l","x":-0.3,"y":3.6},{"c":"l","x":-0.2,"y":3.85},{"c":"l","x":0.15,"y":3.9},{"c":"l","x":0.35,"y":3.55},{"c":"l","x":0.45,"y":3.4},{"c":"l","x":0.5,"y":3.9},{"c":"l","x":-0.45,"y":3.3},{"c":"l","x":0.2,"y":3.3},{"c":"l","x":-0.12,"y":3.2},{"c":"l","x":-0.5,"y":3.05},{"c":"l","x":0.55,"y":3.1},{"c":"l","x":-0.25,"y":3.1},{"c":"l","x":0.3,"y":3.1},
  {"c":"l","x":-2.0,"y":1.05},{"c":"l","x":-1.92,"y":0.6},{"c":"l","x":-1.55,"y":0.55},{"c":"l","x":-1.5,"y":1.0},{"c":"l","x":-1.3,"y":0.45},{"c":"l","x":-1.25,"y":0.85},{"c":"l","x":-1.45,"y":1.25},{"c":"l","x":1.1,"y":0.5},{"c":"l","x":1.2,"y":0.85},{"c":"l","x":1.3,"y":1.1},{"c":"l","x":1.5,"y":0.85},{"c":"l","x":1.25,"y":1.2},{"c":"l","x":1.35,"y":0.7},{"c":"l","x":-1.15,"y":0.5},{"c":"l","x":-1.65,"y":0.8}
 ],
 "aA":[{"k":"v","x":-0.585,"x2v":-0.585,"y":0,"y2v":6.5},{"k":"v","x":0.585,"x2v":0.585,"y":0,"y2v":6.5},{"k":"h","x":-2.7,"x2v":2.19,"y":1.301,"y2v":1.301},{"k":"t","x":-1.66,"y":5.55,"label":"lower"},{"k":"t","x":-0.08,"y":5.55,"label":"*"},{"k":"t","x":1.37,"y":5.55,"label":"higher"}],
 "aB":[{"k":"v","x":-0.585,"x2v":-0.585,"y":-0.05,"y2v":5.65},{"k":"v","x":0.585,"x2v":0.585,"y":-0.05,"y2v":5.65},{"k":"h","x":-2.5,"x2v":2.36,"y":1.301,"y2v":1.301},{"k":"t","x":-1.52,"y":4.85,"label":"lower"},{"k":"t","x":-0.06,"y":4.85,"label":"*"},{"k":"t","x":1.5,"y":4.85,"label":"higher"}],
 "aC":[{"k":"v","x":-0.585,"x2v":-0.585,"y":-0.23,"y2v":6.2},{"k":"v","x":0.585,"x2v":0.585,"y":-0.23,"y2v":6.2},{"k":"h","x":-1.97,"x2v":2.1,"y":1.301,"y2v":1.301},{"k":"t","x":-1.24,"y":5.46,"label":"lower"},{"k":"t","x":-0.02,"y":5.46,"label":"*"},{"k":"t","x":1.37,"y":5.46,"label":"higher"}],
 "aD":[{"k":"v","x":-0.585,"x2v":-0.585,"y":-0.03,"y2v":4.95},{"k":"v","x":0.585,"x2v":0.585,"y":-0.03,"y2v":4.95},{"k":"h","x":-2.23,"x2v":1.91,"y":1.301,"y2v":1.301},{"k":"t","x":-1.31,"y":4.24,"label":"lower"},{"k":"t","x":0.02,"y":4.24,"label":"*"},{"k":"t","x":1.23,"y":4.24,"label":"higher"}]
},
"concat":[
 {"width":570,"height":206,"view":{"stroke":null},"data":{"name":"sA"},
  "encoding":{"x":{"field":"pos","type":"quantitative","scale":{"domain":[-0.8635,2.7556],"nice":false,"zero":false},"axis":null},"y":{"field":"level","type":"quantitative","scale":{"domain":[-0.8835,1.1165],"nice":false,"zero":false},"axis":null}},
  "layer":[
   {"transform":[{"filter":"datum.kind=='node'"}],"mark":{"type":"point","shape":"circle","filled":true,"size":39200,"stroke":"#3b6195","strokeWidth":3,"opacity":1},"encoding":{"fill":{"field":"cultivar","type":"nominal","scale":{"domain":["Peking","PI 88788"],"range":["#953735","#ffffff"]},"legend":null}}},
   {"transform":[{"filter":"datum.kind=='arrow'"}],"mark":{"type":"point","shape":"M-1,0L0.84,0M0.38,-0.3L0.9,0L0.38,0.3","size":9216,"filled":false,"stroke":"#000000","strokeWidth":8,"strokeCap":"round","strokeJoin":"round","opacity":1}},
   {"transform":[{"filter":"datum.kind=='node'"}],"mark":{"type":"text","font":"Lato","fontSize":22,"fontWeight":"bold","lineBreak":"\n","lineHeight":27,"baseline":"middle","align":"center"},"encoding":{"text":{"field":"label"},"color":{"field":"cultivar","type":"nominal","scale":{"domain":["Peking","PI 88788"],"range":["#f6e4e3","#262626"]},"legend":null}}},
   {"transform":[{"filter":"datum.kind=='tag'"}],"mark":{"type":"text","font":"Liberation Serif","fontSize":29,"fontWeight":"bold","color":"#000000","baseline":"middle","align":"center"},"encoding":{"text":{"field":"label"}}},
   {"transform":[{"filter":"datum.kind=='note'"}],"mark":{"type":"text","font":"Lato","fontSize":24,"fontWeight":"bold","color":"#1a1a1a","baseline":"middle","align":"center"},"encoding":{"text":{"field":"label"}}}
  ]},
 {"width":364,"height":206,"view":{"stroke":"#555555","strokeWidth":1.2},
  "encoding":{"x":{"field":"x","type":"quantitative","scale":{"domain":[-2.7,2.19],"nice":false,"zero":false},"axis":{"title":"log2 (ratio)","values":[-2.5,-2,-1.5,-1,-0.5,0,0.5,1,1.5,2],"labelExpr":"datum.value == 0 ? '0' : format(datum.value, '.1f')"}},"y":{"field":"y","type":"quantitative","scale":{"domain":[0,6.5],"nice":false,"zero":false},"axis":{"title":"- log 10 (p values)","values":[0,1,2,3,4,5,6],"format":"d","titlePadding":6}}},
  "layer":[
   {"data":{"name":"eA"},"transform":[{"filter":"datum.t=='lo'"}],"mark":{"type":"area","color":"#b4b4e7","opacity":0.5,"interpolate":"monotone"},"encoding":{"y2":{"field":"y2v"},"detail":{"field":"s"}}},
   {"data":{"name":"eA"},"transform":[{"filter":"datum.t=='lc'"}],"mark":{"type":"area","color":"#aeaee3","opacity":1,"interpolate":"monotone"},"encoding":{"y2":{"field":"y2v"},"detail":{"field":"s"}}},
   {"data":{"name":"eA"},"transform":[{"filter":"datum.t=='do'"}],"mark":{"type":"area","color":"#5a5ab0","opacity":0.3,"interpolate":"monotone"},"encoding":{"y2":{"field":"y2v"},"detail":{"field":"s"}}},
   {"data":{"name":"eA"},"transform":[{"filter":"datum.t=='dc'"}],"mark":{"type":"area","color":"#4b4ba6","opacity":0.85,"interpolate":"monotone"},"encoding":{"y2":{"field":"y2v"},"detail":{"field":"s"}}},
   {"data":{"name":"pA"},"transform":[{"filter":"datum.c=='l'"}],"mark":{"type":"point","shape":"circle","filled":true,"size":9,"color":"#a7a7df","opacity":1}},
   {"data":{"name":"pA"},"transform":[{"filter":"datum.c=='d'"}],"mark":{"type":"point","shape":"circle","filled":true,"size":9,"color":"#4d4da7","opacity":1}},
   {"data":{"name":"aA"},"transform":[{"filter":"datum.k!='t'"}],"mark":{"type":"rule","color":"#ef9f86","strokeWidth":1,"strokeDash":[4,3]},"encoding":{"x2":{"field":"x2v"},"y2":{"field":"y2v"}}},
   {"data":{"name":"aA"},"transform":[{"filter":"datum.k=='t'"}],"mark":{"type":"text","font":"Liberation Sans","fontSize":25,"fontWeight":"bold","color":"#111111","align":"center","baseline":"alphabetic"},"encoding":{"text":{"field":"label"}}}
  ]},
 {"width":570,"height":206,"view":{"stroke":null},"data":{"name":"sB"},
  "encoding":{"x":{"field":"pos","type":"quantitative","scale":{"domain":[-0.8635,2.7556],"nice":false,"zero":false},"axis":null},"y":{"field":"level","type":"quantitative","scale":{"domain":[-1.049,0.951],"nice":false,"zero":false},"axis":null}},
  "layer":[
   {"transform":[{"filter":"datum.kind=='node'"}],"mark":{"type":"point","shape":"circle","filled":true,"size":39200,"stroke":"#3b6195","strokeWidth":3,"opacity":1},"encoding":{"fill":{"field":"cultivar","type":"nominal","scale":{"domain":["Peking","PI 88788"],"range":["#953735","#ffffff"]},"legend":null}}},
   {"transform":[{"filter":"datum.kind=='arrow'"}],"mark":{"type":"point","shape":"M-1,0L0.84,0M0.38,-0.3L0.9,0L0.38,0.3","size":9216,"filled":false,"stroke":"#000000","strokeWidth":8,"strokeCap":"round","strokeJoin":"round","opacity":1}},
   {"transform":[{"filter":"datum.kind=='node'"}],"mark":{"type":"text","font":"Lato","fontSize":22,"fontWeight":"bold","lineBreak":"\n","lineHeight":27,"baseline":"middle","align":"center"},"encoding":{"text":{"field":"label"},"color":{"field":"cultivar","type":"nominal","scale":{"domain":["Peking","PI 88788"],"range":["#f6e4e3","#262626"]},"legend":null}}},
   {"transform":[{"filter":"datum.kind=='tag'"}],"mark":{"type":"text","font":"Liberation Serif","fontSize":29,"fontWeight":"bold","color":"#000000","baseline":"middle","align":"center"},"encoding":{"text":{"field":"label"}}}
  ]},
 {"width":364,"height":206,"view":{"stroke":"#555555","strokeWidth":1.2},
  "encoding":{"x":{"field":"x","type":"quantitative","scale":{"domain":[-2.5,2.36],"nice":false,"zero":false},"axis":{"title":"log2 (ratio)","values":[-2.5,-2,-1.5,-1,-0.5,0,0.5,1,1.5,2],"labelExpr":"datum.value == 0 ? '0' : format(datum.value, '.1f')","labelPadding":10,"titlePadding":1}},"y":{"field":"y","type":"quantitative","scale":{"domain":[-0.05,5.65],"nice":false,"zero":false},"axis":{"title":"- log 10 (p values)","values":[0,1,2,3,4,5],"format":"d","titlePadding":8}}},
  "layer":[
   {"data":{"name":"eB"},"transform":[{"filter":"datum.t=='lo'"}],"mark":{"type":"area","color":"#b4b4e7","opacity":0.5,"interpolate":"monotone"},"encoding":{"y2":{"field":"y2v"},"detail":{"field":"s"}}},
   {"data":{"name":"eB"},"transform":[{"filter":"datum.t=='lc'"}],"mark":{"type":"area","color":"#aeaee3","opacity":1,"interpolate":"monotone"},"encoding":{"y2":{"field":"y2v"},"detail":{"field":"s"}}},
   {"data":{"name":"eB"},"transform":[{"filter":"datum.t=='do'"}],"mark":{"type":"area","color":"#5a5ab0","opacity":0.2,"interpolate":"monotone"},"encoding":{"y2":{"field":"y2v"},"detail":{"field":"s"}}},
   {"data":{"name":"eB"},"transform":[{"filter":"datum.t=='dc'"}],"mark":{"type":"area","color":"#4b4ba6","opacity":0.5,"interpolate":"monotone"},"encoding":{"y2":{"field":"y2v"},"detail":{"field":"s"}}},
   {"data":{"name":"pB"},"transform":[{"filter":"datum.c=='l'"}],"mark":{"type":"point","shape":"circle","filled":true,"size":9,"color":"#a7a7df","opacity":1}},
   {"data":{"name":"pB"},"transform":[{"filter":"datum.c=='d'"}],"mark":{"type":"point","shape":"circle","filled":true,"size":9,"color":"#4d4da7","opacity":1}},
   {"data":{"name":"aB"},"transform":[{"filter":"datum.k!='t'"}],"mark":{"type":"rule","color":"#ef9f86","strokeWidth":1,"strokeDash":[4,3]},"encoding":{"x2":{"field":"x2v"},"y2":{"field":"y2v"}}},
   {"data":{"name":"aB"},"transform":[{"filter":"datum.k=='t'"}],"mark":{"type":"text","font":"Liberation Sans","fontSize":25,"fontWeight":"bold","color":"#111111","align":"center","baseline":"alphabetic"},"encoding":{"text":{"field":"label"}}}
  ]},
 {"width":570,"height":206,"view":{"stroke":null},"data":{"name":"sC"},
  "encoding":{"x":{"field":"pos","type":"quantitative","scale":{"domain":[-0.8635,2.7556],"nice":false,"zero":false},"axis":null},"y":{"field":"level","type":"quantitative","scale":{"domain":[-1.01,0.99],"nice":false,"zero":false},"axis":null}},
  "layer":[
   {"transform":[{"filter":"datum.kind=='node'"}],"mark":{"type":"point","shape":"circle","filled":true,"size":39200,"stroke":"#3b6195","strokeWidth":3,"opacity":1},"encoding":{"fill":{"field":"cultivar","type":"nominal","scale":{"domain":["Peking","PI 88788"],"range":["#953735","#ffffff"]},"legend":null}}},
   {"transform":[{"filter":"datum.kind=='arrow'"}],"mark":{"type":"point","shape":"M-1,0L0.84,0M0.38,-0.3L0.9,0L0.38,0.3","size":9216,"filled":false,"stroke":"#000000","strokeWidth":8,"strokeCap":"round","strokeJoin":"round","opacity":1}},
   {"transform":[{"filter":"datum.kind=='node'"}],"mark":{"type":"text","font":"Lato","fontSize":22,"fontWeight":"bold","lineBreak":"\n","lineHeight":27,"baseline":"middle","align":"center"},"encoding":{"text":{"field":"label"},"color":{"field":"cultivar","type":"nominal","scale":{"domain":["Peking","PI 88788"],"range":["#f6e4e3","#262626"]},"legend":null}}},
   {"transform":[{"filter":"datum.kind=='tag'"}],"mark":{"type":"text","font":"Liberation Serif","fontSize":29,"fontWeight":"bold","color":"#000000","baseline":"middle","align":"center"},"encoding":{"text":{"field":"label"}}}
  ]},
 {"width":364,"height":206,"view":{"stroke":"#555555","strokeWidth":1.2},
  "encoding":{"x":{"field":"x","type":"quantitative","scale":{"domain":[-1.97,2.1],"nice":false,"zero":false},"axis":{"title":"log2 (ratio)","values":[-1.5,-1,-0.5,0,0.5,1,1.5,2],"labelExpr":"datum.value == 0 ? '0' : format(datum.value, '.1f')"}},"y":{"field":"y","type":"quantitative","scale":{"domain":[-0.23,6.2],"nice":false,"zero":false},"axis":{"title":"- log 10 (p values)","values":[0,1,2,3,4,5,6],"format":"d","titlePadding":13}}},
  "layer":[
   {"data":{"name":"eC"},"transform":[{"filter":"datum.t=='lo'"}],"mark":{"type":"area","color":"#b4b4e7","opacity":0.5,"interpolate":"monotone"},"encoding":{"y2":{"field":"y2v"},"detail":{"field":"s"}}},
   {"data":{"name":"eC"},"transform":[{"filter":"datum.t=='lc'"}],"mark":{"type":"area","color":"#aeaee3","opacity":1,"interpolate":"monotone"},"encoding":{"y2":{"field":"y2v"},"detail":{"field":"s"}}},
   {"data":{"name":"eC"},"transform":[{"filter":"datum.t=='do'"}],"mark":{"type":"area","color":"#5a5ab0","opacity":0.2,"interpolate":"monotone"},"encoding":{"y2":{"field":"y2v"},"detail":{"field":"s"}}},
   {"data":{"name":"eC"},"transform":[{"filter":"datum.t=='dc'"}],"mark":{"type":"area","color":"#4b4ba6","opacity":0.5,"interpolate":"monotone"},"encoding":{"y2":{"field":"y2v"},"detail":{"field":"s"}}},
   {"data":{"name":"pC"},"transform":[{"filter":"datum.c=='l'"}],"mark":{"type":"point","shape":"circle","filled":true,"size":9,"color":"#a7a7df","opacity":1}},
   {"data":{"name":"pC"},"transform":[{"filter":"datum.c=='d'"}],"mark":{"type":"point","shape":"circle","filled":true,"size":9,"color":"#4d4da7","opacity":1}},
   {"data":{"name":"aC"},"transform":[{"filter":"datum.k!='t'"}],"mark":{"type":"rule","color":"#ef9f86","strokeWidth":1,"strokeDash":[4,3]},"encoding":{"x2":{"field":"x2v"},"y2":{"field":"y2v"}}},
   {"data":{"name":"aC"},"transform":[{"filter":"datum.k=='t'"}],"mark":{"type":"text","font":"Liberation Sans","fontSize":25,"fontWeight":"bold","color":"#111111","align":"center","baseline":"alphabetic"},"encoding":{"text":{"field":"label"}}}
  ]},
 {"width":570,"height":206,"view":{"stroke":null},"data":{"name":"sD"},
  "encoding":{"x":{"field":"pos","type":"quantitative","scale":{"domain":[-0.8635,2.7556],"nice":false,"zero":false},"axis":null},"y":{"field":"level","type":"quantitative","scale":{"domain":[-1.039,0.961],"nice":false,"zero":false},"axis":null}},
  "layer":[
   {"transform":[{"filter":"datum.kind=='node'"}],"mark":{"type":"point","shape":"circle","filled":true,"size":39200,"stroke":"#3b6195","strokeWidth":3,"opacity":1},"encoding":{"fill":{"field":"cultivar","type":"nominal","scale":{"domain":["Peking","PI 88788"],"range":["#953735","#ffffff"]},"legend":null}}},
   {"transform":[{"filter":"datum.kind=='arrow'"}],"mark":{"type":"point","shape":"M-1,0L0.84,0M0.38,-0.3L0.9,0L0.38,0.3","size":9216,"filled":false,"stroke":"#000000","strokeWidth":8,"strokeCap":"round","strokeJoin":"round","opacity":1}},
   {"transform":[{"filter":"datum.kind=='node'"}],"mark":{"type":"text","font":"Lato","fontSize":22,"fontWeight":"bold","lineBreak":"\n","lineHeight":27,"baseline":"middle","align":"center"},"encoding":{"text":{"field":"label"},"color":{"field":"cultivar","type":"nominal","scale":{"domain":["Peking","PI 88788"],"range":["#f6e4e3","#262626"]},"legend":null}}},
   {"transform":[{"filter":"datum.kind=='tag'"}],"mark":{"type":"text","font":"Liberation Serif","fontSize":29,"fontWeight":"bold","color":"#000000","baseline":"middle","align":"center"},"encoding":{"text":{"field":"label"}}}
  ]},
 {"width":364,"height":206,"view":{"stroke":"#555555","strokeWidth":1.2},
  "encoding":{"x":{"field":"x","type":"quantitative","scale":{"domain":[-2.23,1.91],"nice":false,"zero":false},"axis":{"title":"log2 (ratio)","values":[-2,-1.5,-1,-0.5,0,0.5,1,1.5],"labelExpr":"datum.value == 0 ? '0' : format(datum.value, '.1f')"}},"y":{"field":"y","type":"quantitative","scale":{"domain":[-0.03,4.95],"nice":false,"zero":false},"axis":{"title":"- log 10 (p values)","values":[0.5,1,1.5,2,2.5,3,3.5,4,4.5],"format":".1f","titlePadding":2}}},
  "layer":[
   {"data":{"name":"eD"},"transform":[{"filter":"datum.t=='lo'"}],"mark":{"type":"area","color":"#b4b4e7","opacity":0.5,"interpolate":"monotone"},"encoding":{"y2":{"field":"y2v"},"detail":{"field":"s"}}},
   {"data":{"name":"eD"},"transform":[{"filter":"datum.t=='lc'"}],"mark":{"type":"area","color":"#aeaee3","opacity":1,"interpolate":"monotone"},"encoding":{"y2":{"field":"y2v"},"detail":{"field":"s"}}},
   {"data":{"name":"eD"},"transform":[{"filter":"datum.t=='do'"}],"mark":{"type":"area","color":"#5a5ab0","opacity":0.2,"interpolate":"monotone"},"encoding":{"y2":{"field":"y2v"},"detail":{"field":"s"}}},
   {"data":{"name":"eD"},"transform":[{"filter":"datum.t=='dc'"}],"mark":{"type":"area","color":"#4b4ba6","opacity":0.5,"interpolate":"monotone"},"encoding":{"y2":{"field":"y2v"},"detail":{"field":"s"}}},
   {"data":{"name":"pD"},"transform":[{"filter":"datum.c=='l'"}],"mark":{"type":"point","shape":"circle","filled":true,"size":9,"color":"#a7a7df","opacity":1}},
   {"data":{"name":"pD"},"transform":[{"filter":"datum.c=='d'"}],"mark":{"type":"point","shape":"circle","filled":true,"size":9,"color":"#4d4da7","opacity":1}},
   {"data":{"name":"aD"},"transform":[{"filter":"datum.k!='t'"}],"mark":{"type":"rule","color":"#ef9f86","strokeWidth":1,"strokeDash":[4,3]},"encoding":{"x2":{"field":"x2v"},"y2":{"field":"y2v"}}},
   {"data":{"name":"aD"},"transform":[{"filter":"datum.k=='t'"}],"mark":{"type":"text","font":"Liberation Sans","fontSize":25,"fontWeight":"bold","color":"#111111","align":"center","baseline":"alphabetic"},"encoding":{"text":{"field":"label"}}}
  ]}
]
}
